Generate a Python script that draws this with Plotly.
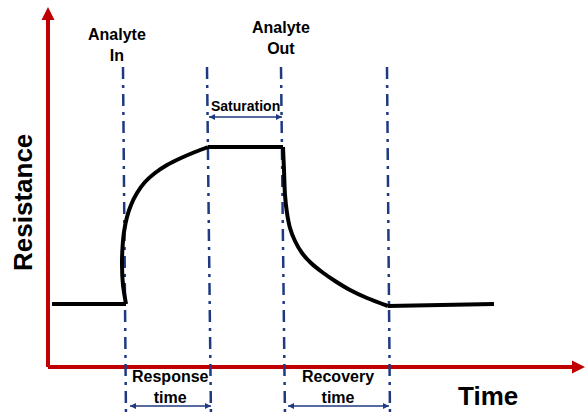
import plotly.graph_objects as go

# ---- data (arbitrary units; x = time, y = resistance) ----
baseline_t = [52, 126]
baseline_r = [114, 114]
rise_t = [126, 123, 122, 122.5, 124, 127, 131, 137, 145, 155, 167, 181, 195, 208]
rise_r = [114, 133, 153, 170, 186, 201, 213, 225, 236, 245, 253, 260, 266, 271]
plateau_t = [208, 283]
plateau_r = [271, 271]
drop_t = [283, 284, 285, 287, 290, 295, 302, 311, 322, 335, 350, 367, 388]
drop_r = [271, 248, 223, 205, 190, 177, 165, 155, 146, 137, 128, 120, 112]
tail_t = [388, 494]
tail_r = [112, 114]

# event markers (time at top / bottom of guide line)
event_top_t = [123, 207, 281, 387]
event_bot_t = [126, 211, 285, 390]
guide_top, guide_bot = 351, 0

# axes
origin_t, origin_r = 48, 51
t_end, r_end = 585, 411

# interval arrows: (start, end, level)
intervals = {
    "Saturation": (209, 282, 301),
    "Response": (130, 211, 12),
    "Recovery": (288, 389, 12),
}

RED = "#C00000"
NAVY = "#1F3A80"
BLACK = "#000000"
FONT = "Liberation Sans, Arial, sans-serif"

fig = go.Figure()

# red axes
fig.add_trace(go.Scatter(x=[origin_t, origin_t], y=[origin_r, r_end - 10], mode="lines",
                         line=dict(color=RED, width=4), hoverinfo="skip"))
fig.add_trace(go.Scatter(x=[origin_t, t_end - 10], y=[origin_r, origin_r], mode="lines",
                         line=dict(color=RED, width=4), hoverinfo="skip"))
fig.add_trace(go.Scatter(x=[origin_t], y=[r_end], mode="markers",
                         marker=dict(symbol="arrow-up", size=13, color=RED, line=dict(width=0)),
                         hoverinfo="skip"))
fig.add_trace(go.Scatter(x=[t_end], y=[origin_r], mode="markers",
                         marker=dict(symbol="arrow-right", size=13, color=RED, line=dict(width=0)),
                         hoverinfo="skip"))

# dash-dot guide lines
for tt, tb in zip(event_top_t, event_bot_t):
    fig.add_trace(go.Scatter(x=[tt, tb], y=[guide_top, guide_bot], mode="lines",
                             line=dict(color=NAVY, width=2.5, dash="12px,6px,3px,6px"),
                             hoverinfo="skip"))

# response curve
curve_line = dict(color=BLACK, width=4)
fig.add_trace(go.Scatter(x=baseline_t, y=baseline_r, mode="lines",
                         line=curve_line, hoverinfo="skip"))
fig.add_trace(go.Scatter(x=rise_t, y=rise_r, mode="lines",
                         line=dict(curve_line, shape="spline", smoothing=0.8), hoverinfo="skip"))
fig.add_trace(go.Scatter(x=plateau_t, y=plateau_r, mode="lines",
                         line=curve_line, hoverinfo="skip"))
fig.add_trace(go.Scatter(x=drop_t, y=drop_r, mode="lines",
                         line=dict(curve_line, shape="spline", smoothing=0.8), hoverinfo="skip"))
fig.add_trace(go.Scatter(x=tail_t, y=tail_r, mode="lines",
                         line=curve_line, hoverinfo="skip"))

# interval double arrows
for name, (a, b, lvl) in intervals.items():
    fig.add_trace(go.Scatter(x=[a, b], y=[lvl, lvl], mode="lines+markers",
                             line=dict(color=NAVY, width=1.5),
                             marker=dict(symbol=["arrow-left", "arrow-right"], size=6,
                                         color=NAVY, line=dict(width=0)),
                             hoverinfo="skip"))

def label(text, x, y, size, angle=0):
    fig.add_annotation(x=x, y=y, text=f"<b>{text}</b>", showarrow=False,
                       xanchor="center", yanchor="middle", textangle=angle,
                       font=dict(family=FONT, size=size, color="#000000"))

label("Analyte<br>In", 117, 373, 16)
label("Analyte<br>Out", 281, 380, 16)
label("Saturation", 245, 312, 14)
label("Response<br>time", 170, 31, 16)
label("Recovery<br>time", 338, 31, 16)
label("Time", 488, 22, 26)
label("Resistance", 23, 215, 26, angle=-90)

fig.update_layout(
    width=587, height=418,
    margin=dict(l=0, r=0, t=0, b=0),
    paper_bgcolor="white", plot_bgcolor="white",
    showlegend=False,
    xaxis=dict(range=[0, 587], visible=False, fixedrange=True),
    yaxis=dict(range=[0, 418], visible=False, fixedrange=True),
)

fig.write_html(
    "out.html",
    config={"displayModeBar": False},
    post_script="document.body.style.margin='0';document.body.style.overflow='hidden';",
)
